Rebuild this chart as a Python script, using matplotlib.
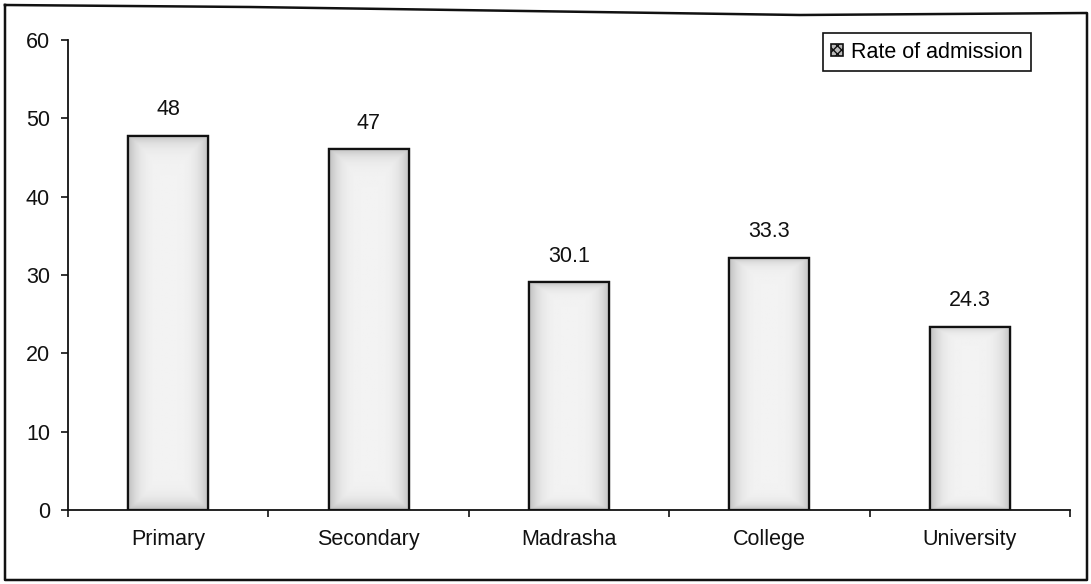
import numpy as np
import matplotlib
matplotlib.use("Agg")
import matplotlib.pyplot as plt
from matplotlib.patches import Patch
from matplotlib.lines import Line2D

# ---- data ----
categories = ["Primary", "Secondary", "Madrasha", "College", "University"]
bar_heights = [47.8, 46.1, 29.1, 32.2, 23.4]          # heights as drawn in the picture
value_labels = ["48", "47", "30.1", "33.3", "24.3"]    # printed data labels
y_ticks = [0, 10, 20, 30, 40, 50, 60]
legend_label = "Rate of admission"

W, H = 1091, 584
FS = 15.5
plt.rcParams['font.family'] = ['Liberation Sans', 'DejaVu Sans']
fig = plt.figure(figsize=(W / 100, H / 100), dpi=100)
fig.patch.set_facecolor('white')

def fx(px):
    return px / W

def fy(py):
    return 1 - py / H

ax = fig.add_axes([fx(68), fy(510), fx(1070) - fx(68), fy(40) - fy(510)])
x = np.arange(len(categories))
bars = ax.bar(x, bar_heights, width=0.4, facecolor='#e6e6e6',
              edgecolor='#111111', linewidth=1.6, zorder=2)

# stippled-look gradient inside bars (darker toward edges)
gx = np.linspace(-1, 1, 60)
gy = np.linspace(-1, 1, 200)
GX, GY = np.meshgrid(gx, gy)
edge = np.maximum(np.abs(GX), np.abs(GY) ** 6)
grad = 0.95 - 0.2 * edge ** 4
for b in bars:
    x0, y0 = b.get_x(), b.get_y()
    im = ax.imshow(grad, extent=[x0, x0 + b.get_width(), y0, y0 + b.get_height()],
                   cmap='gray', vmin=0, vmax=1, aspect='auto', zorder=2.5,
                   interpolation='bilinear')
    im.set_clip_path(b)
    ax.add_patch(plt.Rectangle((x0, y0), b.get_width(), b.get_height(),
                               fill=False, edgecolor='#111111', linewidth=1.6, zorder=3))

for b, lab in zip(bars, value_labels):
    ax.annotate(lab, (b.get_x() + b.get_width() / 2, b.get_height()),
                xytext=(0, 11), textcoords='offset points',
                ha='center', va='bottom', fontsize=FS, color='#111111')

ax.set_xlim(-0.5, len(categories) - 0.5)
ax.set_ylim(0, 60)
ax.set_yticks(y_ticks)
ax.set_yticklabels([str(t) for t in y_ticks])
ax.set_xticks(x)
ax.set_xticklabels(categories)
ax.set_xticks(np.arange(-0.5, len(categories), 1.0), minor=True)
ax.tick_params(axis='x', which='major', length=0, pad=14, labelsize=FS, colors='#111111')
ax.tick_params(axis='x', which='minor', length=5, width=1.2, direction='out', color='#111111')
ax.tick_params(axis='y', which='major', length=5, width=1.2, direction='out', pad=8,
               labelsize=FS, colors='#111111')
for s in ['top', 'right']:
    ax.spines[s].set_visible(False)
for s in ['left', 'bottom']:
    ax.spines[s].set_linewidth(1.3)
    ax.spines[s].set_color('#111111')
ax.set_facecolor('white')

handle = Patch(facecolor='#bbbbbb', edgecolor='#111111', hatch='xxxx', linewidth=1.2)
leg = ax.legend([handle], [legend_label], loc='upper right',
                bbox_to_anchor=(fx(1031), fy(33)), bbox_transform=fig.transFigure,
                borderaxespad=0, fancybox=False, framealpha=1, edgecolor='#111111',
                fontsize=FS, handlelength=0.55, handleheight=0.55, handletextpad=0.35,
                borderpad=0.4)
leg.get_frame().set_linewidth(1.2)

# outer border of the chart
bx = [5, 250, 800, 1087, 1087, 5, 5]
by = [5, 7, 15, 13, 580, 580, 5]
fig.add_artist(Line2D([fx(v) for v in bx], [fy(v) for v in by],
                      transform=fig.transFigure, color='#111111', linewidth=1.8))

fig.savefig('out.png', dpi=100, facecolor='white')
